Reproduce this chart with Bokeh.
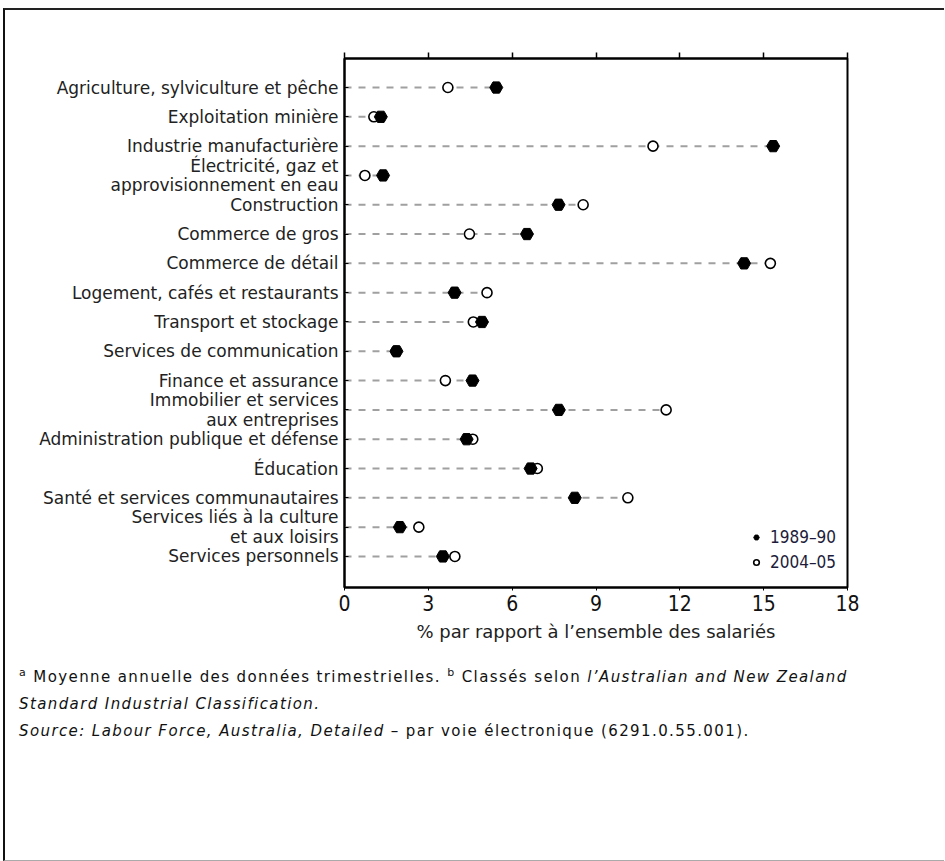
from bokeh.plotting import figure
from bokeh.models import (Range1d, FixedTicker, LinearAxis, Legend, LegendItem,
                          Div, ColumnDataSource)
from bokeh.layouts import column
from bokeh.embed import file_html
from bokeh.resources import INLINE

categories = [
    "Agriculture, sylviculture et pêche",
    "Exploitation minière",
    "Industrie manufacturière",
    "Électricité, gaz et\napprovisionnement en eau",
    "Construction",
    "Commerce de gros",
    "Commerce de détail",
    "Logement, cafés et restaurants",
    "Transport et stockage",
    "Services de communication",
    "Finance et assurance",
    "Immobilier et services\naux entreprises",
    "Administration publique et défense",
    "Éducation",
    "Santé et services communautaires",
    "Services liés à la culture\net aux loisirs",
    "Services personnels",
]
v1989 = [5.43, 1.30, 15.34, 1.38, 7.66, 6.53, 14.30, 3.94, 4.92, 1.86, 4.58,
         7.67, 4.37, 6.66, 8.24, 1.98, 3.52]
v2004 = [3.70, 1.05, 11.04, 0.73, 8.54, 4.47, 15.24, 5.10, 4.61, 1.84, 3.61,
         11.51, 4.59, 6.90, 10.14, 2.66, 3.95]
x_ticks = [0, 3, 6, 9, 12, 15, 18]
series_names = ["1989–90", "2004–05"]
x_title = "% par rapport à l’ensemble des salariés"

idx = list(range(len(categories)))
src = ColumnDataSource(dict(
    y=idx, v1989=v1989, v2004=v2004,
    zero=[0] * len(idx),
    vmax=[max(a, b) for a, b in zip(v1989, v2004)],
))

NARROW = "'Liberation Sans Narrow', 'DejaVu Sans Condensed', sans-serif"
VERD = "'DejaVu Sans', Verdana, sans-serif"

p = figure(width=929, height=645, output_backend="svg", toolbar_location=None,
           x_range=Range1d(0, 18), y_range=Range1d(17.06, -0.99),
           min_border_left=339, min_border_top=48, min_border_right=87,
           min_border_bottom=68, x_axis_location=None, y_axis_location=None)
p.grid.visible = False
p.outline_line_color = "black"
p.outline_line_width = 2

# axes
bottom = LinearAxis(ticker=FixedTicker(ticks=x_ticks), axis_label=x_title)
bottom.axis_line_width = 2
bottom.major_tick_out = 3
bottom.major_tick_in = 0
bottom.minor_tick_out = 0
bottom.minor_tick_in = 0
bottom.major_label_text_font = NARROW
bottom.major_label_text_font_size = "21px"
bottom.major_label_text_color = "#111111"
bottom.major_label_standoff = 4
bottom.axis_label_text_font = VERD
bottom.axis_label_text_font_size = "18px"
bottom.axis_label_text_font_style = "normal"
bottom.axis_label_text_color = "#222222"
bottom.axis_label_standoff = 7
p.add_layout(bottom, "below")

top = LinearAxis(ticker=FixedTicker(ticks=x_ticks))
top.axis_line_width = 2
top.major_tick_out = 6
top.major_tick_in = 0
top.major_tick_line_width = 1.5
top.minor_tick_out = 0
top.minor_tick_in = 0
top.major_label_text_color = None
p.add_layout(top, "above")

left = LinearAxis(ticker=FixedTicker(ticks=idx))
left.major_label_overrides = {i: c for i, c in zip(idx, categories)}
left.axis_line_width = 2
left.major_tick_out = 0
left.major_tick_in = 4
left.minor_tick_out = 0
left.minor_tick_in = 0
left.major_label_standoff = 6
left.major_label_text_font = VERD
left.major_label_text_font_size = "17px"
left.major_label_text_line_height = 0.98
left.major_label_text_color = "#222222"
p.add_layout(left, "left")

# glyphs
p.segment(x0="zero", y0="y", x1="vmax", y1="y", source=src,
          line_color="#a0a0a0", line_width=2, line_dash="7 7")
r2004 = p.scatter(x="v2004", y="y", source=src, marker="circle", size=10,
                  fill_color="white", line_color="black", line_width=1.6)
r1989 = p.scatter(x="v1989", y="y", source=src, marker="hex", size=13,
                  fill_color="black", line_color="black", line_width=1)

legend = Legend(items=[LegendItem(label=series_names[0], renderers=[r1989]),
                       LegendItem(label=series_names[1], renderers=[r2004])],
                location=(405, 15))
legend.padding = 0
legend.margin = 0
legend.spacing = 5
legend.glyph_width = 14
legend.glyph_height = 20
legend.label_height = 20
legend.label_standoff = 7
legend.border_line_color = None
legend.background_fill_alpha = 0
legend.label_text_font = NARROW
legend.label_text_font_size = "17px"
legend.label_text_color = "#1c1c3a"
p.add_layout(legend, "center")

notes = Div(width=929, height=195, text=(
    "<div style=\"font-family:'DejaVu Sans', Verdana, sans-serif; font-size:15px; "
    "letter-spacing:1.4px; line-height:27px; color:#111; padding:4px 0 0 9px;\">"
    "<sup style='font-size:11px; line-height:0'>a</sup> Moyenne annuelle des données "
    "trimestrielles. <sup style='font-size:11px; line-height:0'>b</sup> Classés selon "
    "<i>l’Australian and New Zealand</i><br>"
    "<i>Standard Industrial Classification.</i><br>"
    "<i>Source: Labour Force, Australia, Detailed</i> – par voie électronique "
    "(6291.0.55.001).</div>"))

layout = column(p, notes, spacing=0,
                styles={"border-left": "2px solid #111", "border-top": "2px solid #222",
                        "border-bottom": "1px solid #aaa", "margin": "8px 0 0 3px"})

open("out.html", "w").write(file_html(layout, INLINE))
